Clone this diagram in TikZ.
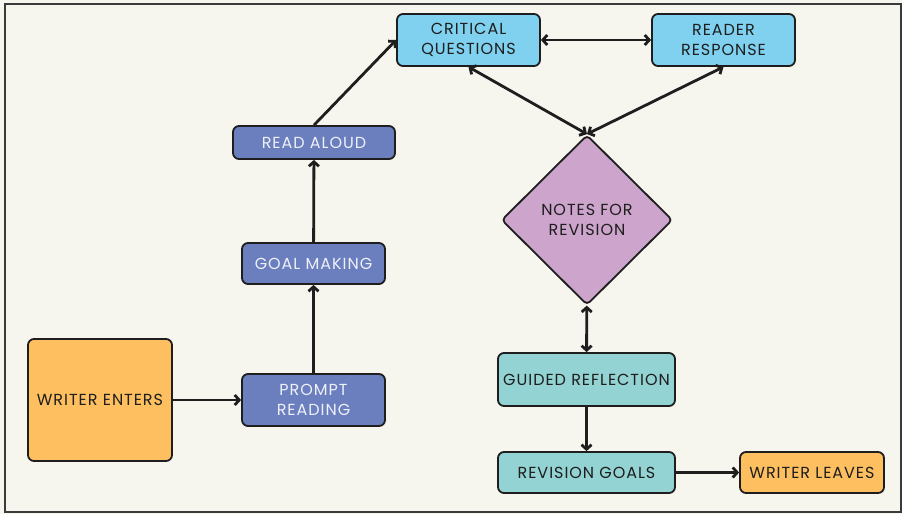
\documentclass[tikz,border=0pt]{standalone}
\usepackage{fontspec}
\setmainfont{Poppins}[LetterSpace=6]
\usetikzlibrary{arrows.meta,shapes.geometric}
\definecolor{paper}{HTML}{F7F6EE}
\definecolor{frame}{HTML}{3A3A3A}
\definecolor{ink}{HTML}{1E1E1E}
\definecolor{orangefill}{HTML}{FDBF5F}
\definecolor{bluefill}{HTML}{6B7FBE}
\definecolor{skyfill}{HTML}{7FD1EF}
\definecolor{lilacfill}{HTML}{CCA4CC}
\definecolor{tealfill}{HTML}{93D3D3}
\definecolor{paletext}{HTML}{EEF0F8}
\tikzset{
  stagebox/.style={draw=ink, line width=1.8pt, rounded corners=6pt, align=center,
    inner sep=0pt, font=\fontsize{16}{19.5}\selectfont, text=ink},
  flowarrow/.style={draw=ink, line width=2.8pt, -{Straight Barb[length=4.5pt,width=10pt]}},
  twowayarrow/.style={draw=ink, line width=2.8pt,
    {Straight Barb[length=4.5pt,width=10pt]}-{Straight Barb[length=4.5pt,width=10pt]}}
}
\begin{document}
\begin{tikzpicture}[x=1pt, y=-1pt]
  \useasboundingbox (0,0) rectangle (902,514);
  \fill[paper] (0,0) rectangle (902,514);
  \draw[frame, line width=2pt] (5,3.5) rectangle (900.5,512);
  % left column
  \node[stagebox, fill=orangefill, minimum width=144pt, minimum height=122pt] (enter) at (100,400) {WRITER ENTERS};
  \node[stagebox, fill=bluefill, text=paletext, minimum width=143pt, minimum height=52pt] (prompt) at (313.5,400) {PROMPT\\READING};
  \node[stagebox, fill=bluefill, text=paletext, minimum width=143pt, minimum height=41pt] (goal) at (313.5,263.5) {GOAL MAKING};
  \node[stagebox, fill=bluefill, text=paletext, minimum width=162pt, minimum height=33pt] (aloud) at (314,142.5) {READ ALOUD};
  % top row
  \node[stagebox, fill=skyfill, minimum width=143pt, minimum height=52pt] (critical) at (468.5,40) {CRITICAL\\QUESTIONS};
  \node[stagebox, fill=skyfill, minimum width=143pt, minimum height=52pt] (reader) at (723.5,40) {READER\\RESPONSE};
  % right column
  \node[stagebox, diamond, rounded corners=4pt, fill=lilacfill, minimum width=171pt, minimum height=170pt] (notes) at (587,220) {NOTES FOR\\REVISION};
  \node[stagebox, fill=tealfill, minimum width=177pt, minimum height=53pt] (guided) at (586.5,379.5) {GUIDED REFLECTION};
  \node[stagebox, fill=tealfill, minimum width=177pt, minimum height=41pt] (revgoals) at (586.5,472.5) {REVISION GOALS};
  \node[stagebox, fill=orangefill, minimum width=144pt, minimum height=41pt] (leaves) at (812,472.5) {WRITER LEAVES};
  % connectors
  \draw[flowarrow] (enter) -- (prompt);
  \draw[flowarrow] (prompt) -- (goal);
  \draw[flowarrow] (goal) -- (aloud);
  \draw[flowarrow] (aloud.north) -- (critical.west);
  \draw[twowayarrow] (critical) -- (reader);
  \draw[twowayarrow] (critical.south) -- (notes.north);
  \draw[twowayarrow] (reader.south) -- (notes.north);
  \draw[twowayarrow] (notes) -- (guided);
  \draw[flowarrow] (guided) -- (revgoals);
  \draw[flowarrow] (revgoals) -- (leaves);
\end{tikzpicture}
\end{document}
